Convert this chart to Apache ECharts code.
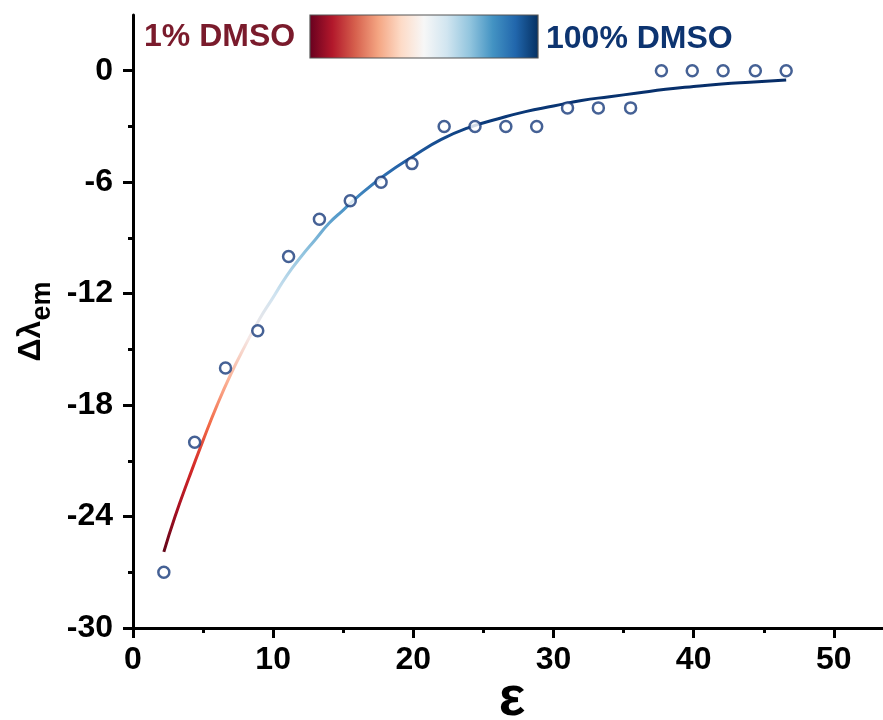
<!DOCTYPE html>
<html>
<head>
<meta charset="utf-8">
<script src="https://cdn.jsdelivr.net/npm/echarts@6/dist/echarts.min.js"></script>
<style>html,body{margin:0;padding:0;background:#fff}#c{width:883px;height:720px}</style>
</head>
<body>
<div id="c"></div>
<script>
// measured points
var epsilon = [2.2, 4.4, 6.6, 8.9, 11.1, 13.3, 15.5, 17.7, 19.9, 22.2, 24.4, 26.6, 28.8, 31.0, 33.2, 35.5, 37.7, 39.9, 42.1, 44.4, 46.6];
var dLambda = [-27, -20, -16, -14, -10, -8, -7, -6, -5, -3, -3, -3, -3, -2, -2, -2, 0, 0, 0, 0, 0];
// fitted curve
var fitX = [2.2, 3, 4, 5, 6, 7, 8, 9, 10, 11, 12, 13, 14, 15, 16, 18, 20, 22, 24, 26, 28, 30, 32, 34, 36, 38, 40, 42, 44, 46.6];
var fitY = [-25.9, -24.0, -21.9, -19.9, -18.0, -16.3, -14.8, -13.4, -12.2, -11.0, -10.0, -9.1, -8.2, -7.5, -6.8, -5.6, -4.6, -3.7, -3.05, -2.6, -2.2, -1.9, -1.6, -1.4, -1.2, -1.0, -0.85, -0.72, -0.62, -0.5];
// tick labels
var yMajor = [-30, -24, -18, -12, -6, 0];
var yMinor = [-27, -21, -15, -9, -3];
var rdbu = ['#67001f', '#b2182b', '#d6604d', '#f4a582', '#fddbc7', '#f7f7f7', '#d1e5f0', '#92c5de', '#4393c3', '#2166ac', '#053061'];
var curveColors = ['#5e0618', '#a50f22', '#d42a28', '#f26a47', '#fbb094', '#f5e8e6', '#cfe3f0', '#8ec2de', '#4a93c6', '#2462a8', '#0b3a7a', '#062c66'];

var FONT = 'Liberation Sans, Arial, sans-serif';
var chart = echarts.init(document.getElementById('c'));

function stops(list) {
  return list.map(function (c, i) { return { offset: i / (list.length - 1), color: c }; });
}

var pts = epsilon.map(function (x, i) { return [x, dLambda[i]]; });
var fit = fitX.map(function (x, i) { return [x, fitY[i]]; });

var option = {
  animation: false,
  backgroundColor: '#fff',
  grid: { left: 133, top: 15, bottom: 92, right: -91, containLabel: false, outerBoundsMode: 'none' },
  xAxis: {
    type: 'value', min: 0, max: 60, interval: 10,
    axisLine: { show: true, onZero: false, lineStyle: { color: '#000', width: 3 } },
    axisTick: { show: true, length: 10, lineStyle: { color: '#000', width: 3 } },
    minorTick: { show: true, splitNumber: 2, length: 5, lineStyle: { color: '#000', width: 3 } },
    splitLine: { show: false },
    axisLabel: { color: '#000', fontSize: 32, fontWeight: 'bold', fontFamily: FONT, margin: 16 }
  },
  yAxis: [{
    type: 'value', min: -30, max: 3, interval: 3,
    axisLine: { show: true, onZero: false, lineStyle: { color: '#000', width: 3 } },
    axisTick: { show: true, length: 10, customValues: yMajor, lineStyle: { color: '#000', width: 3 } },
    splitLine: { show: false },
    axisLabel: { color: '#000', fontSize: 32, fontWeight: 'bold', fontFamily: FONT, margin: 20, customValues: yMajor },
    name: '{a|Δλ}{b|em}',
    nameLocation: 'middle', nameRotate: 90, nameGap: 82,
    nameTextStyle: {
      color: '#000', fontFamily: FONT,
      rich: {
        a: { fontSize: 32, fontWeight: 'bold', fontFamily: FONT, color: '#000', verticalAlign: 'top', lineHeight: 32 },
        b: { fontSize: 27, fontWeight: 'bold', fontFamily: FONT, color: '#000', verticalAlign: 'top', lineHeight: 27, padding: [14, 0, 0, 0] }
      }
    }
  }, {
    type: 'value', min: -30, max: 3, interval: 3, position: 'left',
    axisLine: { show: false },
    axisTick: { show: true, length: 5, customValues: yMinor, lineStyle: { color: '#000', width: 3 } },
    axisLabel: { show: false },
    splitLine: { show: false }
  }],
  graphic: [
    {
      type: 'rect', shape: { x: 310, y: 15, width: 228, height: 43 },
      style: {
        fill: new echarts.graphic.LinearGradient(0, 0, 1, 0, stops(rdbu)),
        stroke: '#555', lineWidth: 1.2
      }
    },
    {
      type: 'text', style: { text: '1% DMSO', x: 144, y: 37, verticalAlign: 'middle', align: 'left', fill: '#7a1b2c', font: 'bold 32px ' + FONT }
    },
    {
      type: 'text', style: { text: '100% DMSO', x: 546, y: 39, verticalAlign: 'middle', align: 'left', fill: '#0d3470', font: 'bold 32px ' + FONT }
    },
    {
      type: 'text', style: { text: 'ε', x: 512, y: 700, verticalAlign: 'middle', align: 'center', fill: '#000', font: 'bold 56px ' + FONT }
    }
  ],
  series: [
    {
      type: 'line', data: fit, smooth: true, showSymbol: false, symbol: 'none', z: 2,
      lineStyle: { width: 3, color: new echarts.graphic.LinearGradient(0, 0, 0, 1, stops(curveColors.slice().reverse())) }
    },
    {
      type: 'scatter', data: pts, symbol: 'circle', symbolSize: 11, z: 3,
      itemStyle: { color: '#fff', borderColor: '#17397a', borderWidth: 2.5 }
    }
  ]
};
chart.setOption(option);
</script>
</body>
</html>
